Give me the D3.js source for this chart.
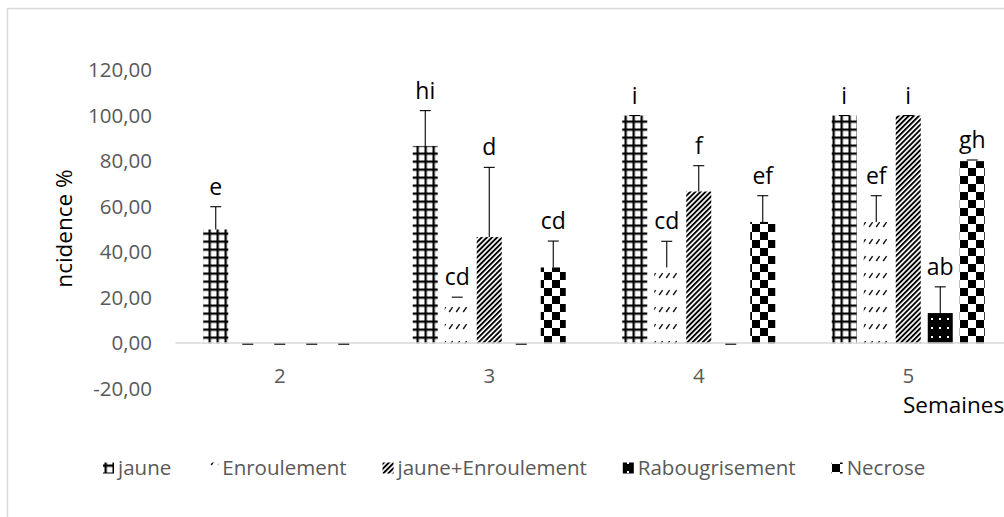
<!DOCTYPE html>
<html><head><meta charset="utf-8">
<script src="https://cdn.jsdelivr.net/npm/d3@7"></script>
<style>
body{margin:0;background:#fff;}
svg{display:block;font-family:"Open Sans",sans-serif;}
</style>
</head><body>
<svg id="c" width="1004" height="517"></svg>
<script>
// ---- data ----
const weeks = ["2", "3", "4", "5"];
const series = ["jaune", "Enroulement", "jaune+Enroulement", "Rabougrisement", "Necrose"];
const jaune = [50, 86.67, 100, 100];
const enroulement = [0, 20, 33.33, 53.33];
const jauneEnroulement = [0, 46.67, 66.67, 100];
const rabougrisement = [0, 0, 0, 13.33];
const necrose = [0, 33.33, 53.33, 80];
const errJaune = [10, 15.5, 0, 0];
const errEnroulement = [0, 0.3, 11.5, 11.5];
const errJauneEnroulement = [0, 30.6, 11.33, 0];
const errRabougrisement = [0, 0, 0, 11.5];
const errNecrose = [0, 11.6, 11.5, 0.5];
const lblJaune = ["e", "hi", "i", "i"];
const lblEnroulement = ["", "cd", "cd", "ef"];
const lblJauneEnroulement = ["", "d", "f", "i"];
const lblRabougrisement = ["", "", "", "ab"];
const lblNecrose = ["", "cd", "ef", "gh"];
const yTicks = [-20, 0, 20, 40, 60, 80, 100, 120];
const xTitle = "Semaines";
const yTitle = "ncidence %";

const values = [jaune, enroulement, jauneEnroulement, rabougrisement, necrose];
const errors = [errJaune, errEnroulement, errJauneEnroulement, errRabougrisement, errNecrose];
const labels = [lblJaune, lblEnroulement, lblJauneEnroulement, lblRabougrisement, lblNecrose];

const rows = [];
series.forEach((s, si) => weeks.forEach((w, wi) => rows.push({
  s, si, w, v: values[si][wi], e: errors[si][wi], l: labels[si][wi]
})));

// ---- setup ----
const svg = d3.select("#c");
const defs = svg.append("defs");

// patterns
const p0 = defs.append("pattern").attr("id", "pat0").attr("patternUnits", "userSpaceOnUse")
  .attr("width", 8).attr("height", 8).attr("x", 0.5).attr("y", 0.5);
p0.append("rect").attr("width", 8).attr("height", 8).attr("fill", "#fff");
p0.append("rect").attr("width", 2.3).attr("height", 8).attr("fill", "#000");
p0.append("rect").attr("width", 8).attr("height", 2.3).attr("fill", "#000");

const p1 = defs.append("pattern").attr("id", "pat1").attr("patternUnits", "userSpaceOnUse")
  .attr("width", 7).attr("height", 17);
p1.append("rect").attr("width", 7).attr("height", 17).attr("fill", "#fff");
p1.append("line").attr("x1", 1.2).attr("y1", 6).attr("x2", 4.6).attr("y2", 1.2)
  .attr("stroke", "#111").attr("stroke-width", 1.4);

const p2 = defs.append("pattern").attr("id", "pat2").attr("patternUnits", "userSpaceOnUse")
  .attr("width", 3.6).attr("height", 3.6).attr("patternTransform", "rotate(45)");
p2.append("rect").attr("width", 3.6).attr("height", 3.6).attr("fill", "#fff");
p2.append("rect").attr("width", 1.9).attr("height", 3.6).attr("fill", "#000");

const p3 = defs.append("pattern").attr("id", "pat3").attr("patternUnits", "userSpaceOnUse")
  .attr("width", 8).attr("height", 9);
p3.append("rect").attr("width", 8).attr("height", 9).attr("fill", "#000");
p3.append("rect").attr("x", 3).attr("y", 3).attr("width", 2).attr("height", 2).attr("fill", "#fff");

const p4 = defs.append("pattern").attr("id", "pat4").attr("patternUnits", "userSpaceOnUse")
  .attr("width", 16).attr("height", 16);
p4.append("rect").attr("width", 16).attr("height", 16).attr("fill", "#fff");
p4.append("rect").attr("width", 8).attr("height", 8).attr("fill", "#000");
p4.append("rect").attr("x", 8).attr("y", 8).attr("width", 8).attr("height", 8).attr("fill", "#000");

// chart frame
svg.append("rect").attr("x", 7.5).attr("y", 8.5).attr("width", 1100).attr("height", 600)
  .attr("fill", "none").attr("stroke", "#d9d9d9").attr("stroke-width", 1.5);

// scales
const x0 = d3.scaleBand().domain(weeks).range([175, 1013]).paddingInner(0).paddingOuter(0);
const half = 76.5;
const x1 = d3.scaleBand().domain(series)
  .range([x0.bandwidth() / 2 - half, x0.bandwidth() / 2 + half])
  .paddingInner(7 / 32).paddingOuter(0);
const y = d3.scaleLinear().domain([-20, 120]).range([389, 70]);

// y axis (labels only)
const fmt = d => d.toFixed(2).replace(".", ",");
const gy = svg.append("g").attr("transform", "translate(175,0)")
  .call(d3.axisLeft(y).tickValues(yTicks).tickSize(0).tickPadding(23).tickFormat(fmt));
gy.select(".domain").remove();
gy.selectAll("text").attr("fill", "#595959").attr("font-size", 20.5)
  .attr("font-family", "Open Sans");

// bars
svg.append("g").selectAll("rect").data(rows.filter(d => d.v > 0)).join("rect")
  .attr("x", d => x0(d.w) + x1(d.s))
  .attr("width", x1.bandwidth())
  .attr("y", d => y(d.v))
  .attr("height", d => y(0) - y(d.v))
  .attr("fill", d => `url(#pat${d.si})`);

// x axis
const gx = svg.append("g").attr("transform", `translate(0,${y(0) - 1})`)
  .call(d3.axisBottom(x0).tickSize(0).tickSizeOuter(0).tickPadding(26));
gx.select(".domain").attr("stroke", "#d9d9d9").attr("stroke-width", 1.5);
gx.selectAll("text").attr("fill", "#595959").attr("font-size", 20.5)
  .attr("font-family", "Open Sans");

// error bars
const eg = svg.append("g").attr("stroke", "#000").attr("stroke-width", 1.1);
rows.forEach(d => {
  const cx = x0(d.w) + x1(d.s) + x1.bandwidth() / 2;
  const top = d.v + d.e;
  const yt = d.v === 0 ? y(0) + 0.8 : y(top);
  if (d.e > 0.6) {
    eg.append("line").attr("x1", cx).attr("x2", cx).attr("y1", y(d.v)).attr("y2", yt);
  }
  eg.append("line").attr("x1", cx - 5.5).attr("x2", cx + 5.5).attr("y1", yt).attr("y2", yt);
});

// letter labels
svg.append("g").selectAll("text").data(rows.filter(d => d.l)).join("text")
  .attr("x", d => x0(d.w) + x1(d.s) + x1.bandwidth() / 2)
  .attr("y", d => y(d.v + d.e) - 12)
  .attr("text-anchor", "middle")
  .attr("font-size", 23)
  .attr("fill", "#000")
  .text(d => d.l);

// axis titles
svg.append("text").attr("x", 903).attr("y", 413).attr("font-size", 22.5).attr("fill", "#000").text(xTitle);
svg.append("text").attr("transform", "translate(71.5,228.5) rotate(-90)")
  .attr("text-anchor", "middle").attr("font-size", 22.5).attr("fill", "#000").text(yTitle);

// legend
const lg = svg.append("g");
let lx = 103;
series.forEach((s, i) => {
  lg.append("rect").attr("x", lx).attr("y", 462.5).attr("width", 11).attr("height", 11)
    .attr("fill", `url(#pat${i})`);
  const t = lg.append("text").attr("x", lx + 15).attr("y", 468).attr("dy", "0.35em")
    .attr("font-size", 20.5).attr("fill", "#595959").text(s);
  lx = lx + 15 + t.node().getComputedTextLength() + 36;
});
</script>
</body></html>
